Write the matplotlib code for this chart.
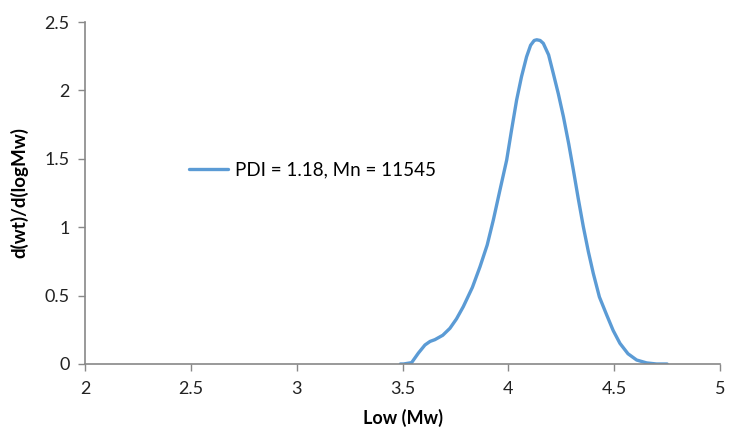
import matplotlib
matplotlib.use("Agg")
import matplotlib.pyplot as plt
import numpy as np

# values
log_mw = [3.49, 3.505, 3.543, 3.575, 3.606, 3.63, 3.653, 3.69, 3.724, 3.755, 3.787,
          3.83, 3.866, 3.9, 3.929, 3.96, 3.992, 4.015, 4.039, 4.062, 4.086, 4.105,
          4.122, 4.134, 4.15, 4.165, 4.19, 4.212, 4.236, 4.26, 4.285, 4.307, 4.33,
          4.354, 4.378, 4.401, 4.43, 4.464, 4.495, 4.527, 4.565, 4.606, 4.653,
          4.70, 4.75]
dwt = [0.0, 0.0, 0.01, 0.08, 0.139, 0.165, 0.178, 0.21, 0.261, 0.33, 0.419,
       0.56, 0.711, 0.87, 1.053, 1.27, 1.491, 1.71, 1.93, 2.1, 2.246, 2.33,
       2.365, 2.37, 2.365, 2.344, 2.26, 2.125, 1.975, 1.808, 1.61, 1.418, 1.21,
       1.004, 0.82, 0.663, 0.49, 0.36, 0.245, 0.151, 0.075, 0.029, 0.008,
       0.0, 0.0]
series_label = "PDI = 1.18, Mn = 11545"

plt.rcParams['font.family'] = ['Lato', 'DejaVu Sans']

fig = plt.figure(figsize=(7.3, 4.34), dpi=100)
ax = fig.add_axes([0.1164, 0.1613, 0.87, 0.788])

ax.plot(log_mw, dwt, color='#5B9BD5', linewidth=2.4, label=series_label,
        solid_capstyle='round', solid_joinstyle='round')

ax.set_xlim(2, 5)
ax.set_ylim(0, 2.5)
ax.set_xticks([2, 2.5, 3, 3.5, 4, 4.5, 5])
ax.set_xticklabels(['2', '2.5', '3', '3.5', '4', '4.5', '5'])
ax.set_yticks([0, 0.5, 1, 1.5, 2, 2.5])
ax.set_yticklabels(['0', '0.5', '1', '1.5', '2', '2.5'])

for side in ['top', 'right']:
    ax.spines[side].set_visible(False)
for side in ['left', 'bottom']:
    ax.spines[side].set_color('#888888')
    ax.spines[side].set_linewidth(1.2)
ax.tick_params(axis='both', color='#888888', length=5, width=1,
               labelsize=13, labelcolor='#222222')
ax.tick_params(axis='x', pad=7)
ax.tick_params(axis='y', pad=6)

ax.set_xlabel("Low (Mw)", fontsize=13, fontweight='bold', labelpad=9)
ax.set_ylabel("d(wt)/d(logMw)", fontsize=13.5, fontweight='bold', labelpad=12)

ax.legend(loc='center left', bbox_to_anchor=(0.137, 0.567), frameon=False,
          fontsize=13.5, handlelength=2.1, handletextpad=0.35)

fig.savefig("out.png", dpi=100)
